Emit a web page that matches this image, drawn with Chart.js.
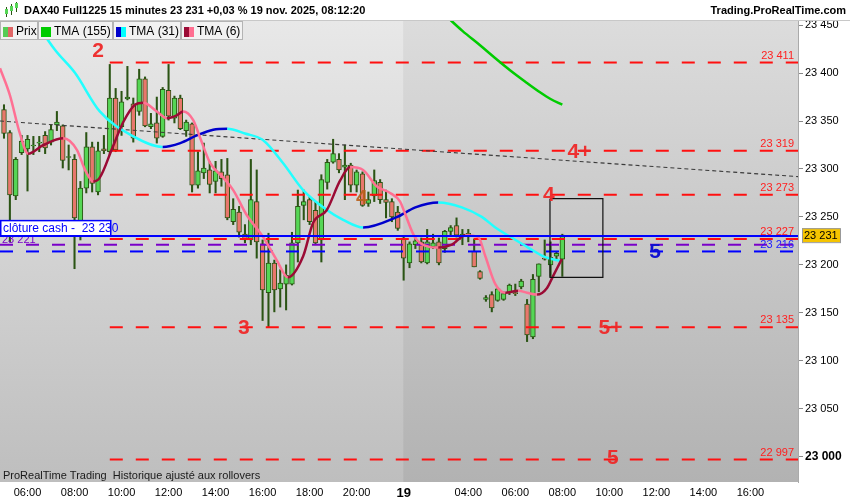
<!doctype html>
<html>
<head>
<meta charset="utf-8">
<title>DAX40 Full1225 15 minutes</title>
<script src="https://cdn.jsdelivr.net/npm/chart.js@4.4.1/dist/chart.umd.min.js"></script>
<style>
  html, body { margin: 0; padding: 0; background: #fff; }
</style>
</head>
<body>
<canvas id="canvas" width="850" height="500"></canvas>
<script>
// 15-minute bars, index 0 = 18 nov 05:00 ... index 95 = 19 nov 08:00
const opens  = [23362,23338,23272,23317,23321,23324,23327,23335,23328,23346,23345,23312,23310,23245,23280,23323,23276,23321,23318,23374,23344,23373,23368,23360,
                23394,23344,23348,23334,23382,23353,23374,23340,23347,23283,23296,23299,23287,23297,23294,23245,23255,23232,23226,23266,23222,23171,23202,23175,
                23180,23180,23223,23262,23268,23257,23226,23286,23307,23310,23302,23304,23283,23295,23264,23272,23286,23268,23266,23255,
                23228,23202,23221,23224,23202,23219,23224,23217,23235,23241,23230,23233,23214,23193,23164,23169,23163,23164,23171,23171,23177,23159,23125,23188,23207,23200,23209,23206];
const highs  = [23367,23340,23312,23335,23335,23334,23334,23339,23346,23360,23346,23325,23315,23287,23338,23328,23328,23335,23409,23384,23381,23407,23374,23404,
                23396,23358,23375,23385,23409,23376,23377,23351,23348,23318,23327,23308,23308,23310,23311,23269,23261,23242,23310,23299,23226,23233,23205,23195,
                23200,23234,23278,23278,23271,23266,23294,23310,23331,23316,23325,23306,23299,23297,23276,23299,23289,23278,23269,23261,
                23230,23224,23228,23228,23237,23232,23228,23236,23241,23249,23237,23237,23227,23194,23168,23172,23176,23172,23180,23180,23185,23164,23190,23201,23226,23224,23214,23232];
const lows   = [23332,23224,23268,23315,23277,23315,23318,23316,23325,23340,23301,23299,23196,23226,23275,23276,23273,23316,23315,23318,23335,23372,23328,23356,
                23344,23342,23327,23333,23351,23348,23341,23334,23276,23280,23290,23275,23275,23282,23247,23242,23229,23223,23221,23207,23142,23135,23151,23156,
                23153,23179,23203,23247,23242,23221,23203,23279,23306,23296,23268,23276,23276,23261,23261,23266,23264,23249,23245,23236,
                23184,23197,23217,23202,23201,23217,23200,23213,23231,23229,23221,23224,23198,23185,23162,23151,23162,23163,23169,23168,23175,23120,23123,23172,23205,23188,23205,23188];
const closes = [23337,23273,23310,23329,23331,23325,23328,23322,23341,23349,23309,23313,23249,23280,23323,23285,23319,23319,23374,23320,23370,23375,23332,23394,
                23345,23347,23332,23383,23355,23374,23342,23349,23283,23298,23301,23284,23298,23290,23249,23258,23234,23226,23268,23224,23174,23202,23174,23181,
                23189,23223,23261,23266,23245,23223,23289,23307,23316,23299,23304,23283,23297,23262,23268,23288,23268,23265,23250,23238,
                23207,23222,23225,23203,23224,23223,23202,23235,23239,23231,23232,23231,23198,23186,23166,23155,23175,23170,23179,23170,23183,23127,23185,23201,23206,23208,23212,23231];

// moving averages (bar index, value)
const tma155X = [75.5, 78, 81, 83.5, 86.1, 88.7, 91.2, 93, 95];
const tma155Y = [23458, 23444, 23429, 23416, 23403, 23391, 23380, 23373, 23367];
const tma31X = [5, 8.7, 12.1, 16.3, 22, 27, 30, 32.8, 35.6, 38, 41, 44.1, 47.5, 50.9, 55, 57.7, 61.1, 66.9, 70, 73.9, 77.9, 81.3, 83.6, 86.5, 89.2, 92.1, 94.8];
const tma31Y = [23457, 23424, 23400, 23360, 23334, 23323, 23327, 23335, 23341, 23342, 23337, 23330, 23306, 23278, 23257, 23247, 23239, 23250, 23260, 23265, 23260, 23250, 23239, 23228, 23218, 23208, 23204];
const tma6X = [-0.68, 1, 2.7, 4.1, 6.7, 10.1, 12.4, 13.8, 15.2, 16.3, 18.5, 20.3, 22.3, 23.7, 26, 27.7, 29.4, 30.5, 32.2, 33.4, 35.1, 37.3, 39, 41.3, 44.1, 46.4, 48.3,
               50.9, 52.6, 54.9, 57.2, 58.9, 61.1, 63.4, 65.7, 67.4, 68.2, 69.9, 72.2, 73.9, 76.2, 78.5, 80.7, 81.9, 83.6, 85.3, 87.5, 89, 90.7, 92.4, 93.4, 94.9];
const tma6Y = [23405, 23377, 23337, 23316, 23325, 23332, 23320, 23299, 23287, 23291, 23323, 23349, 23367, 23369, 23360, 23353, 23356, 23360, 23351, 23332, 23306, 23291, 23278, 23252, 23229, 23205, 23187,
               23209, 23244, 23257, 23288, 23302, 23299, 23282, 23275, 23266, 23254, 23229, 23219, 23218, 23221, 23231, 23229, 23209, 23180, 23171, 23173, 23171, 23169, 23176, 23188, 23206];

// drawn levels
const levelValues = [23411, 23319, 23273, 23227, 23135, 22997];
const levelStart = 18;
const purpleLevel = 23221;
const blueLevel = 23214;
const blueLevelLabel = '23 216';
const cashClose = 23230;
const lastPrice = 23231;
const trendX = [-0.68, 135.1];
const trendY = [23350, 23292];
const boxX = [92.9, 101.9];
const boxY = [23187, 23269];
const marks = [
  { t: '2', x: 16, y: 23424, c: 'rgba(238,40,40,0.95)' },
  { t: '3', x: 40.8, y: 23135, c: 'rgba(238,40,40,0.95)' },
  { t: '4', x: 60.9, y: 23271, c: 'rgba(185,95,25,0.9)' },
  { t: '4', x: 92.7, y: 23274, c: 'rgba(238,40,40,0.95)' },
  { t: '4+', x: 97.9, y: 23319, c: 'rgba(238,40,40,0.95)' },
  { t: '5', x: 110.8, y: 23214, c: '#1010d0' },
  { t: '5+', x: 103.2, y: 23135, c: 'rgba(238,40,40,0.95)' },
  { t: '5', x: 103.6, y: 22999, c: 'rgba(238,40,40,0.95)' }
];

// axes
const xMin = -0.68, xMax = 135.1;
const yMin = 22973.6, yMax = 23454.3;
const sessionStart = 67.9;
const xTickPos = [4, 12, 20, 28, 36, 44, 52, 60, 68, 79, 87, 95, 103, 111, 119, 127];
const xTickText = ['06:00', '08:00', '10:00', '12:00', '14:00', '16:00', '18:00', '20:00', '19', '04:00', '06:00', '08:00', '10:00', '12:00', '14:00', '16:00'];
const yTicks = [23000, 23050, 23100, 23150, 23200, 23250, 23300, 23350, 23400, 23450];

const FONT = '"Liberation Sans", Arial, sans-serif';
const wickColor = '#2b5414';
const upColor = '#55d655';
const downColor = '#e8776c';

const fmt = n => { const s = String(Math.round(n)); return s.slice(0, -3) + ' ' + s.slice(-3); };
const pts = (xs, ys) => xs.map((x, i) => ({ x: x, y: ys[i] }));
const hline = (from, v) => [{ x: from, y: v }, { x: xMax, y: v }];

const decor = {
  id: 'decor',
  beforeDraw(chart) {
    const { ctx, chartArea: a } = chart;
    const split = chart.scales.x.getPixelForValue(sessionStart);
    ctx.save();
    ctx.fillStyle = '#fff';
    ctx.fillRect(0, 0, chart.width, chart.height);
    let g = ctx.createLinearGradient(0, a.top, 0, a.bottom);
    g.addColorStop(0, '#e8e8e8');
    g.addColorStop(1, '#bebebe');
    ctx.fillStyle = g;
    ctx.fillRect(a.left, a.top, split - a.left, a.bottom - a.top);
    g = ctx.createLinearGradient(0, a.top, 0, a.bottom);
    g.addColorStop(0, '#dcdcdc');
    g.addColorStop(1, '#b2b2b2');
    ctx.fillStyle = g;
    ctx.fillRect(split, a.top, a.right - split, a.bottom - a.top);
    ctx.restore();
  },
  afterDatasetDraw(chart, args) {
    if (args.meta.label !== 'body') return;
    const { ctx, chartArea: a } = chart;
    const y = chart.scales.y;
    ctx.save();
    ctx.font = '11px ' + FONT;
    ctx.fillStyle = '#7a00c8';
    ctx.textBaseline = 'alphabetic';
    ctx.fillText(fmt(purpleLevel), a.left + 2, y.getPixelForValue(purpleLevel) - 2);
    const yc = y.getPixelForValue(cashClose);
    ctx.fillStyle = '#fff';
    ctx.fillRect(a.left, yc - 16, 111, 16);
    ctx.strokeStyle = '#0000ff';
    ctx.lineWidth = 1.5;
    ctx.strokeRect(a.left + 0.75, yc - 15.5, 110, 15.5);
    ctx.fillStyle = '#0000ff';
    ctx.font = '12px ' + FONT;
    ctx.fillText('clôture cash -  ' + fmt(cashClose), a.left + 3, yc - 4);
    ctx.restore();
  },
  afterDatasetsDraw(chart) {
    const { ctx, chartArea: a } = chart;
    const x = chart.scales.x, y = chart.scales.y;
    ctx.save();
    // level labels on the right
    ctx.font = '11px ' + FONT;
    ctx.textAlign = 'right';
    ctx.textBaseline = 'alphabetic';
    ctx.fillStyle = '#ff2020';
    levelValues.forEach(v => ctx.fillText(fmt(v), a.right - 4, y.getPixelForValue(v) - 4));
    ctx.fillStyle = '#2020ff';
    ctx.fillText(blueLevelLabel, a.right - 4, y.getPixelForValue(blueLevel) - 3);
    // wave marks
    ctx.font = 'bold 21px ' + FONT;
    ctx.textAlign = 'center';
    ctx.textBaseline = 'middle';
    marks.forEach(m => {
      ctx.fillStyle = m.c;
      ctx.fillText(m.t, x.getPixelForValue(m.x), y.getPixelForValue(m.y) + 1);
    });
    // footer note
    ctx.font = '11px ' + FONT;
    ctx.textAlign = 'left';
    ctx.textBaseline = 'alphabetic';
    ctx.fillStyle = '#1a1a1a';
    ctx.fillText('ProRealTime Trading  Historique ajusté aux rollovers', a.left + 3, a.bottom - 3);
    ctx.restore();
  },
  afterDraw(chart) {
    const { ctx, chartArea: a } = chart;
    const y = chart.scales.y;
    ctx.save();
    // header
    ctx.fillStyle = '#fff';
    ctx.fillRect(0, 0, chart.width, a.top);
    ctx.strokeStyle = '#c8c8c8';
    ctx.lineWidth = 1;
    ctx.beginPath(); ctx.moveTo(0, a.top - 0.5); ctx.lineTo(chart.width, a.top - 0.5); ctx.stroke();
    // little candle icon
    [[5, 7, 14, 9, 13], [10, 4, 12, 6, 10], [15, 2, 9, 3, 7]].forEach(c => {
      ctx.fillStyle = wickColor;
      ctx.fillRect(c[0] + 1, c[1], 1, c[2] - c[1] + 3);
      ctx.fillStyle = upColor;
      ctx.fillRect(c[0], c[3], 3, c[4] - c[3] + 1);
    });
    ctx.fillStyle = '#000';
    ctx.font = 'bold 11px ' + FONT;
    ctx.textBaseline = 'middle';
    ctx.textAlign = 'left';
    ctx.fillText('DAX40 Full1225 15 minutes 23 231 +0,03 % 19 nov. 2025, 08:12:20', 24, 11);
    ctx.textAlign = 'right';
    ctx.fillText('Trading.ProRealTime.com', chart.width - 4, 11);
    // legend boxes
    const items = [
      { x: 0, w: 37, label: 'Prix', sw: ['#55cc55', '#e06666'] },
      { x: 38, w: 74, label: 'TMA (155)', sw: ['#00cc00', '#00cc00'] },
      { x: 113, w: 67, label: 'TMA (31)', sw: ['#0000cc', '#00ffff'] },
      { x: 181, w: 61, label: 'TMA (6)', sw: ['#9b0b35', '#ff6f91'] }
    ];
    ctx.font = '12px ' + FONT;
    ctx.textAlign = 'left';
    items.forEach(it => {
      ctx.fillStyle = '#f2f2f2';
      ctx.fillRect(it.x, a.top + 1, it.w, 18);
      ctx.strokeStyle = '#b4b4b4';
      ctx.strokeRect(it.x + 0.5, a.top + 0.5, it.w, 18);
      ctx.fillStyle = it.sw[0];
      ctx.fillRect(it.x + 3, a.top + 6, 5, 10);
      ctx.fillStyle = it.sw[1];
      ctx.fillRect(it.x + 8, a.top + 6, 5, 10);
      ctx.fillStyle = '#000';
      ctx.fillText(it.label, it.x + 16, a.top + 11);
    });
    // last price tag
    const yp = y.getPixelForValue(lastPrice);
    ctx.fillStyle = '#f5c400';
    ctx.fillRect(a.right + 4, yp - 7, 38, 14);
    ctx.strokeStyle = '#999';
    ctx.strokeRect(a.right + 4.5, yp - 6.5, 38, 14);
    ctx.fillStyle = '#000';
    ctx.font = '11px ' + FONT;
    ctx.fillText(fmt(lastPrice), a.right + 6, yp + 0.5);
    ctx.restore();
  }
};

const lineBase = { type: 'line', pointRadius: 0, fill: false, tension: 0 };
const datasets = [
  { type: 'bar', label: 'wick', data: lows.map((l, i) => ({ x: i, y: [l, highs[i]] })),
    backgroundColor: wickColor, barThickness: 1.4, grouped: false, order: 20 },
  { type: 'bar', label: 'body', data: opens.map((o, i) => ({ x: i, y: [o, closes[i]] })),
    backgroundColor: opens.map((o, i) => closes[i] >= o ? upColor : downColor),
    borderColor: wickColor, borderWidth: 1, borderSkipped: false, barThickness: 4.8, grouped: false, order: 19 }
];
levelValues.forEach(v => datasets.push(Object.assign({}, lineBase, {
  label: 'level', data: hline(levelStart, v), borderColor: '#ff1010', borderWidth: 2, borderDash: [13, 13], order: 8
})));
datasets.push(Object.assign({}, lineBase, { label: 'purple', data: hline(xMin, purpleLevel), borderColor: '#7a00c8', borderWidth: 2, borderDash: [13, 13], order: 7 }));
datasets.push(Object.assign({}, lineBase, { label: 'blue', data: hline(xMin, blueLevel), borderColor: '#0000ff', borderWidth: 2, borderDash: [13, 13], order: 7 }));
datasets.push(Object.assign({}, lineBase, { label: 'trend', data: pts(trendX, trendY), borderColor: '#3a3a3a', borderWidth: 1.1, borderDash: [4, 3], order: 6 }));
datasets.push(Object.assign({}, lineBase, { label: 'tma155', data: pts(tma155X, tma155Y), borderColor: '#00cc00', borderWidth: 2.5, cubicInterpolationMode: 'monotone', order: 4 }));
datasets.push(Object.assign({}, lineBase, { label: 'tma31', data: pts(tma31X, tma31Y), borderWidth: 2.5, cubicInterpolationMode: 'monotone', order: 4,
  borderColor: '#00ffff',
  segment: { borderColor: c => c.p1.parsed.y > c.p0.parsed.y ? '#0000cc' : '#22ffff' } }));
datasets.push(Object.assign({}, lineBase, { label: 'tma6', data: pts(tma6X, tma6Y), borderWidth: 2.5, cubicInterpolationMode: 'monotone', order: 3,
  borderColor: '#ff6f91',
  segment: { borderColor: c => c.p1.parsed.y > c.p0.parsed.y ? '#9b0b35' : '#ff7093' } }));
datasets.push(Object.assign({}, lineBase, { label: 'box',
  data: [{ x: boxX[0], y: boxY[1] }, { x: boxX[1], y: boxY[1] }, { x: boxX[1], y: boxY[0] }, { x: boxX[0], y: boxY[0] }, { x: boxX[0], y: boxY[1] }],
  borderColor: '#111', borderWidth: 1.2, order: 2 }));
datasets.push(Object.assign({}, lineBase, { label: 'cash', data: hline(xMin, cashClose), borderColor: '#0000ff', borderWidth: 2, order: 1 }));

const config = {
  type: 'bar',
  data: { datasets: datasets },
  options: {
    responsive: false,
    animation: false,
    events: [],
    layout: { padding: { top: 21, left: 0, right: 0, bottom: 0 } },
    plugins: { legend: { display: false }, tooltip: { enabled: false } },
    scales: {
      x: {
        type: 'linear', min: xMin, max: xMax, offset: false,
        grid: { display: false, drawTicks: false, offset: false },
        border: { display: false },
        afterFit(s) { s.height = 18; },
        afterBuildTicks(s) { s.ticks = xTickPos.map(v => ({ value: v })); },
        ticks: {
          autoSkip: false, maxRotation: 0, padding: 4, color: '#000',
          font: c => ({ family: FONT, size: (c.tick && c.tick.value === 68) ? 13 : 11, weight: (c.tick && c.tick.value === 68) ? 'bold' : 'normal' }),
          callback: (v, i) => xTickText[i]
        }
      },
      y: {
        type: 'linear', position: 'right', min: yMin, max: yMax,
        afterFit(s) { s.width = 52; },
        afterBuildTicks(s) { s.ticks = yTicks.map(v => ({ value: v })); },
        grid: { drawOnChartArea: false, tickLength: 5, color: '#888' },
        border: { color: '#aaa' },
        ticks: {
          padding: 2, color: '#000',
          font: c => ({ family: FONT, size: (c.tick && c.tick.value === 23000) ? 12 : 11, weight: (c.tick && c.tick.value === 23000) ? 'bold' : 'normal' }),
          callback: v => fmt(v)
        }
      }
    }
  },
  plugins: [decor]
};

window.onload = function() {
  const ctx = document.getElementById('canvas').getContext('2d');
  window.myChart = new Chart(ctx, config);
};
</script>
</body>
</html>
